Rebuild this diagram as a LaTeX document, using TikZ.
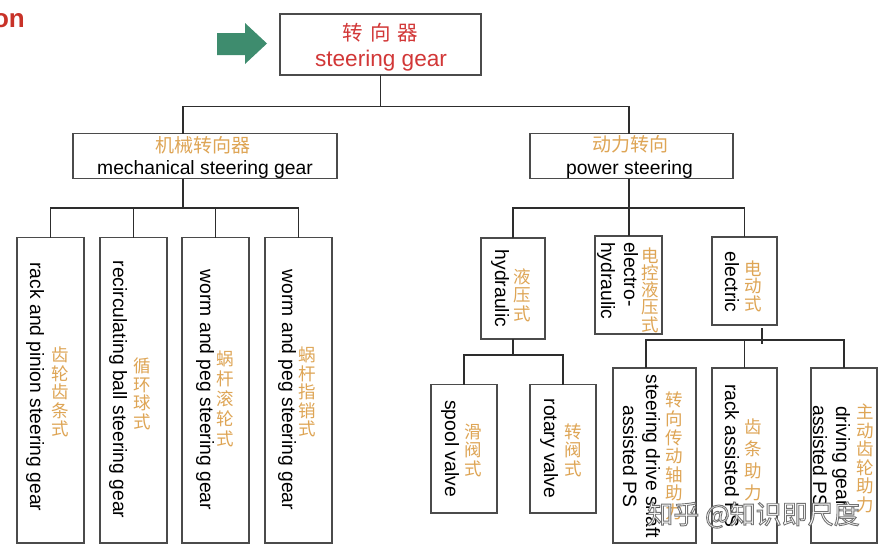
\documentclass[tikz,border=0pt]{standalone}
\usepackage{fontspec}
\setmainfont{Liberation Sans}
\newfontfamily\cjk{Noto Sans CJK SC}
\usetikzlibrary{calc}
\definecolor{boxgray}{RGB}{75,75,75}
\definecolor{linegray}{RGB}{45,45,45}
\definecolor{orangezh}{RGB}{222,165,85}
\definecolor{titlered}{RGB}{210,55,55}
\definecolor{onred}{RGB}{200,50,40}
\definecolor{arrowgreen}{RGB}{62,140,110}
\tikzset{
  box/.style={draw=boxgray, line width=1.4pt, inner sep=0pt, outer sep=0pt, fill=white},
  conn/.style={draw=linegray, line width=1.2pt},
  en/.style={font=\fontsize{19.3}{23}\selectfont, inner sep=0pt, text=black, align=center},
  zh/.style={font=\cjk\fontsize{17.5}{18.5}\selectfont, text=orangezh, inner sep=0pt, align=center},
  wm/.style={font=\cjk\fontsize{26}{28}\selectfont, inner sep=0pt, text=white},
}
\begin{document}
\begin{tikzpicture}[x=1pt,y=-1pt]
\useasboundingbox (0,0) rectangle (884,552);
% cut title fragment and arrow
\node[font=\bfseries\fontsize{26}{30}\selectfont, text=onred, anchor=base east, inner sep=0pt] (on) at (25,27.5) {on};
\fill[arrowgreen] (217,33) -- (245,33) -- (245,23) -- (267,43.5) -- (245,64) -- (245,55) -- (217,55) -- cycle;
% boxes
\node[box, minimum width=201pt, minimum height=61pt] (t) at (380.5,44.5) {};
\node[box, minimum width=264pt, minimum height=45pt] (mech) at (205,156) {};
\node[box, minimum width=203pt, minimum height=45pt] (pow) at (631.5,156) {};
\node[box, minimum width=67pt, minimum height=305.5pt] (l1) at (50.5,390.25) {};
\node[box, minimum width=67pt, minimum height=305.5pt] (l2) at (133.5,390.25) {};
\node[box, minimum width=67pt, minimum height=305.5pt] (l3) at (215.5,390.25) {};
\node[box, minimum width=67pt, minimum height=305.5pt] (l4) at (298.5,390.25) {};
\node[box, minimum width=64pt, minimum height=101pt] (hyd) at (513,288.5) {};
\node[box, minimum width=67pt, minimum height=98pt] (eh) at (628.5,285) {};
\node[box, minimum width=65pt, minimum height=88pt] (el) at (744.5,281) {};
\node[box, minimum width=66pt, minimum height=128.5pt] (spool) at (464,448.75) {};
\node[box, minimum width=66pt, minimum height=128.5pt] (rot) at (563,448.75) {};
\node[box, minimum width=83pt, minimum height=175pt] (ba) at (654.5,455.5) {};
\node[box, minimum width=65pt, minimum height=175pt] (bb) at (744.5,455.5) {};
\node[box, minimum width=66pt, minimum height=175pt] (bc) at (844,455.5) {};
% connectors
\coordinate (mx) at (183,0);
\coordinate (px) at (629,0);
\coordinate (ax) at (646,0);
\coordinate (j0) at (0,106.7);
\coordinate (j1) at (0,208);
\coordinate (j3) at (0,355);
\coordinate (j4) at (0,340);
\draw[conn] (t.south) -- (t.south |- j0);
\draw[conn] (mech.north -| mx) -- (mx |- j0) -- (px |- j0) -- (pow.north -| px);
\draw[conn] (mech.south -| mx) -- (mx |- j1);
\draw[conn] (l1.north) -- (l1.north |- j1) -- (l4.north |- j1) -- (l4.north);
\draw[conn] (l2.north) -- (l2.north |- j1);
\draw[conn] (l3.north) -- (l3.north |- j1);
\draw[conn] (pow.south -| px) -- (px |- j1);
\draw[conn] (hyd.north) -- (hyd.north |- j1) -- (el.north |- j1) -- (el.north);
\draw[conn] (eh.north -| px) -- (px |- j1);
\draw[conn] (hyd.south) -- (hyd.south |- j3);
\draw[conn] (spool.north) -- (spool.north |- j3) -- (rot.north |- j3) -- (rot.north);
\draw[conn] (ba.north -| ax) -- (ax |- j4) -- (bc.north |- j4) -- (bc.north);
\draw[conn] (bb.north) -- (bb.north |- j4);
\coordinate (tick) at ($(el.south)+(17.5,3)$);
\draw[conn] (tick) -- ++(0,16);
% top texts
\node[font=\cjk\fontsize{20.5}{22}\selectfont, text=titlered, inner sep=0pt] (tzh) at (380.5,32.5) {转\,\,向\,\,器};
\node[font=\fontsize{22.6}{26}\selectfont, text=titlered, inner sep=0pt, anchor=base] (ten) at (381,66.5) {steering gear};
\node[zh, font=\cjk\fontsize{19}{21}\selectfont] (mzh) at (202.5,145) {机械转向器};
\node[en, anchor=base] (men) at (205,174.5) {mechanical steering gear};
\node[zh, font=\cjk\fontsize{19}{21}\selectfont] (pzh) at (630.5,144.5) {动力转向};
\node[en, anchor=base] (pen) at (629.5,174.3) {power steering};
% mechanical leaves
\node[en, rotate=-90] (l1en) at (35,387) {rack and pinion steering gear};
\node[zh] (l1zh) at (60,392) {齿\\轮\\齿\\条\\式};
\node[en, rotate=-90] (l2en) at (118,389.5) {recirculating ball steering gear};
\node[zh] (l2zh) at (142,394) {循\\环\\球\\式};
\node[en, rotate=-90] (l3en) at (205,390) {worm and peg steering gear};
\node[zh, font=\cjk\fontsize{17.5}{20}\selectfont] (l3zh) at (225,398.5) {蜗\\杆\\滚\\轮\\式};
\node[en, rotate=-90] (l4en) at (287,390) {worm and peg steering gear};
\node[zh] (l4zh) at (307,392) {蜗\\杆\\指\\销\\式};
% power leaves
\node[en, rotate=-90] (hyden) at (500,288.5) {hydraulic};
\node[zh] (hydzh) at (522,295) {液\\压\\式};
\node[en, rotate=-90, anchor=west, align=left] (ehen) at (617.5,242) {electro-\\hydraulic};
\node[zh, font=\cjk\fontsize{17.5}{17.3}\selectfont] (ehzh) at (650,290) {电\\控\\液\\压\\式};
\node[en, rotate=-90] (elen) at (732,282) {electric};
\node[zh, font=\cjk\fontsize{17.5}{17.5}\selectfont] (elzh) at (753,286) {电\\动\\式};
\node[en, rotate=-90] (spen) at (450,448.5) {spool valve};
\node[zh] (spzh) at (473,450) {滑\\阀\\式};
\node[en, rotate=-90] (roen) at (549,448.5) {rotary valve};
\node[zh] (rozh) at (573,450) {转\\阀\\式};
\node[en, rotate=-90] (baen) at (641.5,456.5) {steering drive shaft\\assisted PS};
\node[zh, font=\cjk\fontsize{17.5}{18.6}\selectfont] (bazh) at (674,456) {转\\向\\传\\动\\轴\\助\\力};
\node[en, rotate=-90] (bben) at (732,456) {rack assisted PS};
\node[zh, font=\cjk\fontsize{17.5}{22}\selectfont] (bbzh) at (753,460) {齿\\条\\助\\力};
\node[en, rotate=-90] (bcen) at (831.5,456.5) {driving gear\\assisted PS};
\node[zh, font=\cjk\fontsize{17.5}{18.6}\selectfont] (bczh) at (865,458.5) {主\\动\\齿\\轮\\助\\力};
% watermark: white text with grey outline (fill+stroke text render mode)
\node[wm] (wm) at (753.5,515) {\special{pdf:literal direct 0.45 G 0.9 w 2 Tr}知乎 @知识即尺度\special{pdf:literal direct 0 Tr}};
\end{tikzpicture}
\end{document}
